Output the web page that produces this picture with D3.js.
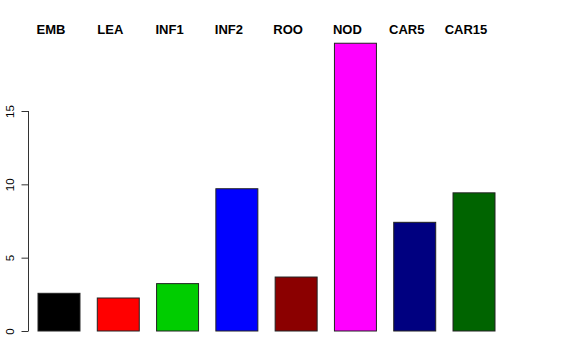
<!DOCTYPE html>
<html lang="en">
<head>
<meta charset="utf-8">
<script src="https://cdn.jsdelivr.net/npm/d3@7/dist/d3.min.js"></script>
<style>
  body { margin: 0; background: #fff; }
  text { font-family: "Liberation Sans", Arial, sans-serif; }
</style>
</head>
<body>
<script>
  const categories = ["EMB", "LEA", "INF1", "INF2", "ROO", "NOD", "CAR5", "CAR15"];
  const values = [2.57, 2.25, 3.23, 9.7, 3.68, 19.62, 7.41, 9.42];
  const colors = ["#000000", "#ff0000", "#00cd00", "#0000ff", "#8b0000", "#ff00ff", "#000080", "#006400"];
  const yTicks = [0, 5, 10, 15];

  const w = 576, h = 360;

  const svg = d3.select("body").append("svg")
    .attr("width", w)
    .attr("height", h);

  const xScale = d3.scaleBand()
    .domain(categories)
    .range([38, 495])
    .paddingInner(0.292)
    .paddingOuter(0);

  const yScale = d3.scaleLinear()
    .domain([0, 15])
    .range([331, 111]);

  svg.selectAll("rect.bar")
    .data(categories)
    .enter()
    .append("rect")
    .attr("class", "bar")
    .attr("x", d => xScale(d))
    .attr("y", (d, i) => yScale(values[i]))
    .attr("width", xScale.bandwidth())
    .attr("height", (d, i) => yScale(0) - yScale(values[i]))
    .attr("fill", (d, i) => colors[i])
    .attr("stroke", "#222")
    .attr("stroke-width", 1);

  // category labels across the top
  svg.selectAll("text.cat")
    .data(categories)
    .enter()
    .append("text")
    .attr("class", "cat")
    .attr("x", d => xScale(d) + xScale.bandwidth() / 2 - 8)
    .attr("y", 34)
    .attr("text-anchor", "middle")
    .style("font-size", "13px")
    .style("font-weight", "bold")
    .text(d => d);

  // R-style y axis
  const yAxis = d3.axisLeft(yScale)
    .tickValues(yTicks)
    .tickSize(7)
    .tickPadding(0)
    .tickFormat(d3.format("d"));

  const gy = svg.append("g")
    .attr("transform", "translate(28.5,0)")
    .call(yAxis);

  gy.select(".domain")
    .attr("d", "M0," + yScale(0) + "V" + yScale(15))
    .attr("stroke", "#333");
  gy.selectAll(".tick line").attr("stroke", "#333");
  gy.selectAll(".tick text")
    .attr("transform", "rotate(-90)")
    .attr("x", 0)
    .attr("y", -14.5)
    .attr("dy", 0)
    .attr("text-anchor", "middle")
    .style("font-size", "11.5px")
    .attr("fill", "#000");
</script>
</body>
</html>
